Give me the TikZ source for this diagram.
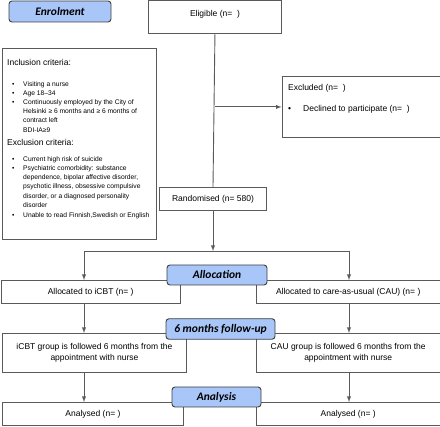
\documentclass[tikz,border=0pt]{standalone}
\usepackage{fontspec}
\setmainfont{Liberation Sans}
\newfontfamily\labelfont{Carlito}
\usetikzlibrary{positioning}

\definecolor{boxgray}{RGB}{90,90,90}
\definecolor{labelblue}{RGB}{168,198,248}

\tikzset{
  flowbox/.style={draw=boxgray, fill=white, line width=0.9pt, inner sep=0pt, anchor=north west, align=center, font=\fontsize{8.5}{10.5}\selectfont},
  stagelabel/.style={draw=black!75, fill=labelblue, line width=0.9pt, rounded corners=3pt, inner sep=0pt, font=\fontsize{11.5}{13}\selectfont\labelfont\bfseries\itshape},
  flowline/.style={draw=boxgray, line width=0.9pt},
  flowarrow/.style={flowline, -latex}
}

\newcommand{\critbullet}{\hspace*{5pt}\makebox[11pt][l]{\textbullet}}
\newcommand{\critindent}{\hspace*{16pt}}

\begin{document}
\begin{tikzpicture}[x=1pt,y=-1pt]
\useasboundingbox (0,0) rectangle (440,427);

%% Enrolment
\node[flowbox, minimum width=133pt, text height=15.5pt, text depth=17.5pt] (eligible) at (148,0.5) {Eligible (n=\ \ )};

\node[flowbox, minimum width=154.5pt, minimum height=190.5pt] (criteria) at (1.5,48.5) {};
\node[anchor=north west, inner sep=0pt, align=left, font=\fontsize{6.7}{9.1}\selectfont] (criteriatext) at (7,59.5) {%
{\fontsize{8.5}{10}\selectfont Inclusion criteria:}\\[11.5pt]
\critbullet Visiting a nurse\\
\critbullet Age 18--34\\
\critbullet Continuously employed by the City of\\
\critindent Helsinki ≥ 6 months and ≥ 6 months of\\
\critindent contract left\\[1pt]
\critindent BDI-IA≥9\\[3pt]
{\fontsize{8.5}{10}\selectfont Exclusion criteria:}\\[7.5pt]
\critbullet Current high risk of suicide\\
\critbullet Psychiatric comorbidity: substance\\
\critindent dependence, bipolar affective disorder,\\
\critindent psychotic illness, obsessive compulsive\\
\critindent disorder, or a diagnosed personality\\
\critindent disorder\\[1pt]
\critbullet Unable to read Finnish,Swedish or English};

\node[flowbox, minimum width=158pt, minimum height=61pt] (excluded) at (281.5,76) {};
\node[anchor=west, inner sep=0pt, font=\fontsize{8.5}{10}\selectfont] (excludedtext) at (288,88.5) {Excluded (n=\ \ )};
\node[anchor=west, inner sep=0pt, font=\fontsize{8.5}{10}\selectfont] (declined) at (288,109.5) {\makebox[15pt][l]{\textbullet}Declined to participate (n=\ \ )};

\node[flowbox, anchor=center, minimum width=107pt, minimum height=23.5pt] (randomised) at (213,199) {Randomised (n= 580)};

%% Allocation
\node[flowbox, minimum width=179.5pt, minimum height=23pt] (icbtalloc) at (0.5,280) {Allocated to iCBT (n= )};
\node[flowbox, minimum width=183.5pt, minimum height=23pt] (caualloc) at (256,280) {Allocated to care-as-usual (CAU) (n= )};

%% Follow-up
\node[flowbox, minimum width=184pt, minimum height=39pt] (icbtgroup) at (2,333) {iCBT group is followed 6 months from the\\ appointment with nurse};
\node[flowbox, minimum width=183.5pt, minimum height=39pt] (caugroup) at (256,333) {CAU group is followed 6 months from the\\ appointment with nurse};

%% Analysis
\node[flowbox, minimum width=181pt, minimum height=23.5pt] (icbtanalysed) at (2,402) {Analysed (n= )};
\node[flowbox, minimum width=183.5pt, minimum height=23.5pt] (cauanalysed) at (256,402) {Analysed (n= )};

%% connectors
\coordinate (exclsplit) at (eligible.south |- excluded.west);
\coordinate (split) at (213,251);
\coordinate (splitL) at (84,251);
\coordinate (splitR) at (349,251);

\draw[flowline] (eligible.south) -- (randomised.north);
\draw[flowarrow] (exclsplit) -- (excluded.west);
\draw[flowarrow] (randomised.south) -- (split);
\draw[flowline] (splitL) -- (splitR);
\draw[flowarrow] (splitL) -- (splitL |- icbtalloc.north);
\draw[flowarrow] (splitR) -- (splitR |- caualloc.north);
\draw[flowarrow] (splitL |- icbtalloc.south) -- (splitL |- icbtgroup.north);
\draw[flowarrow] (splitR |- caualloc.south) -- (splitR |- caugroup.north);
\draw[flowarrow] (splitL |- icbtgroup.south) -- (splitL |- icbtanalysed.north);
\draw[flowarrow] (splitR |- caugroup.south) -- (splitR |- cauanalysed.north);

%% stage labels
\node[stagelabel, minimum width=102pt, minimum height=21pt] (enrolment) at (60,11.5) {Enrolment};
\node[stagelabel, minimum width=100pt, minimum height=20pt] (allocation) at (217,275) {Allocation};
\node[stagelabel, minimum width=109pt, minimum height=20.5pt] (followup) at (220.5,329) {6 months follow-up};
\node[stagelabel, minimum width=89pt, minimum height=20pt] (analysis) at (216.5,397) {Analysis};

\end{tikzpicture}
\end{document}
